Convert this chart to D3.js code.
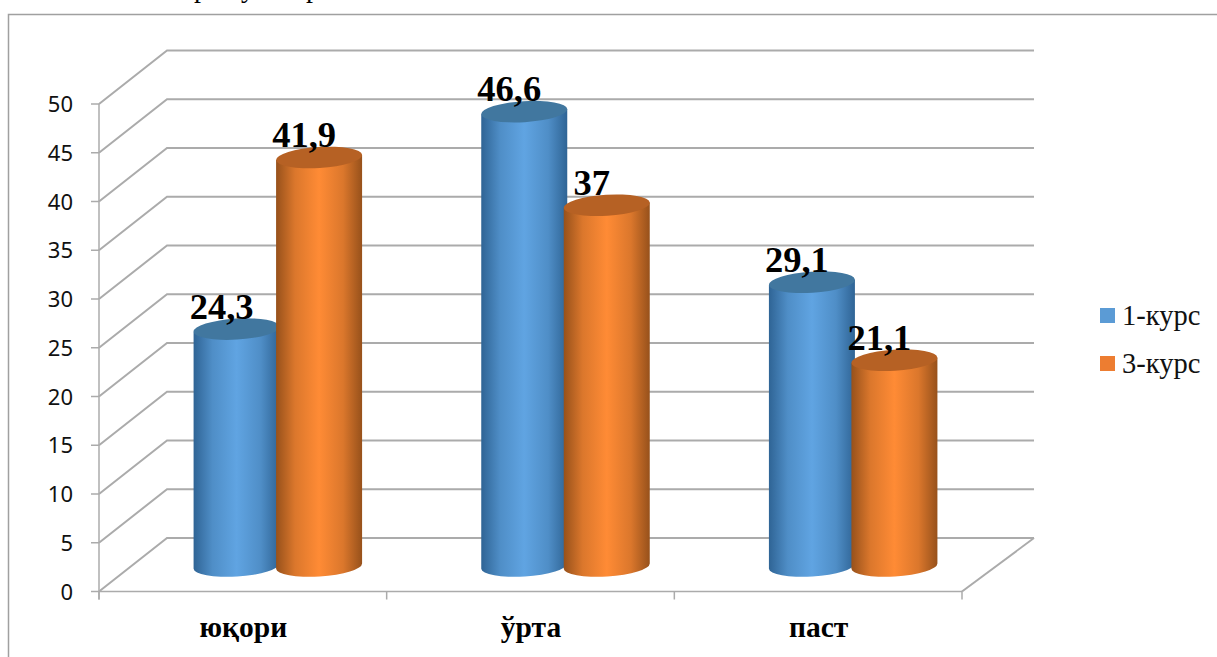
<!DOCTYPE html>
<html><head><meta charset="utf-8">
<script src="https://cdn.jsdelivr.net/npm/d3@7"></script>
<style>html,body{margin:0;padding:0;background:#fff}svg{display:block}</style>
</head><body><svg id="chart" width="1217" height="657"></svg>
<script>
const categories = ["юқори", "ўрта", "паст"];
const seriesNames = ["1-курс", "3-курс"];
const firstYear = [24.3, 46.6, 29.1];
const thirdYear = [41.9, 37, 21.1];
const valueLabels = [["24,3", "46,6", "29,1"], ["41,9", "37", "21,1"]];
const yTicks = [0, 5, 10, 15, 20, 25, 30, 35, 40, 45, 50];

const svg = d3.select("#chart");
const serif = "'Liberation Serif','Times New Roman',serif";
const depth = { dx: 68, dy: -53.5 };
const x = d3.scaleBand().domain(categories).range([99, 962]);
const y = d3.scaleLinear().domain([0, 50]).range([591.5, 104]);
const barSeries = d3.scaleBand().domain(seriesNames).range([-82.5, 82.5]);
const barW = 86, rx = barW / 2, ry = 10.5, tilt = -3.5;

const palette = [
  { edge: "#2f6495", mid: "#60a4e2", top: "#41779f", key: "#5b9bd5" },
  { edge: "#97511b", mid: "#ff8b35", top: "#b66124", key: "#ed7d31" }
];
const defs = svg.append("defs");
palette.forEach((p, i) => {
  const g = defs.append("linearGradient").attr("id", "cyl" + i);
  [[0, p.edge], [0.22, d3.interpolateRgb(p.edge, p.mid)(0.65)], [0.5, p.mid], [0.78, d3.interpolateRgb(p.edge, p.mid)(0.65)], [1, p.edge]]
    .forEach(([o, c]) => g.append("stop").attr("offset", o).attr("stop-color", c));
});

// Surrounding frame
svg.append("path").attr("d", "M8.5,657V14.5H1217").attr("fill", "none").attr("stroke", "#a0a0a0").attr("stroke-width", 1.5);

// Descenders of the body text line that runs off the top of the page
svg.append("text").attr("x", "194 241 306").attr("y", -3).attr("font-family", serif).attr("font-size", 28).attr("fill", "#000").text("рур");

// Back wall gridlines and side-wall diagonals
const grid = svg.append("g").attr("fill", "none").attr("stroke", "#ababab").attr("stroke-width", 2);
grid.selectAll("path").data(yTicks).join("path")
  .attr("d", d => d3.line()([[x.range()[0], y(d)], [x.range()[0] + depth.dx, y(d) + depth.dy], [x.range()[1] + depth.dx + 4, y(d) + depth.dy]]));
grid.append("path").attr("d", d3.line()([[x.range()[1], y(0)], [x.range()[1] + depth.dx + 4, y(0) + depth.dy]]));

// Value axis
const axisY = svg.append("g").attr("stroke", "#ababab").attr("stroke-width", 1.5);
axisY.append("line").attr("x1", 99).attr("x2", 99).attr("y1", y(50)).attr("y2", y(0) + 8);
axisY.selectAll("line.t").data(yTicks).join("line").attr("class", "t")
  .attr("x1", 91).attr("x2", 99).attr("y1", d => y(d)).attr("y2", d => y(d));
svg.append("g").selectAll("text").data(yTicks).join("text")
  .attr("x", 73).attr("y", d => y(d) + 8).attr("text-anchor", "end")
  .attr("font-family", "'Noto Sans',sans-serif").attr("font-size", 22).attr("fill", "#111").text(d => d);

// Category axis
const axisX = svg.append("g").attr("stroke", "#ababab").attr("stroke-width", 1.5);
axisX.append("line").attr("x1", 99).attr("x2", 962).attr("y1", y(0)).attr("y2", y(0));
axisX.selectAll("line.t").data(d3.range(4)).join("line").attr("class", "t")
  .attr("x1", i => 99 + i * x.step()).attr("x2", i => 99 + i * x.step()).attr("y1", y(0)).attr("y2", y(0) + 8);
svg.append("g").selectAll("text").data(categories).join("text")
  .attr("x", d => x(d) + x.bandwidth() / 2 + 0.5).attr("y", 637).attr("text-anchor", "middle")
  .attr("font-family", serif).attr("font-weight", "bold").attr("font-size", 29.5).attr("fill", "#000").text(d => d);

// Cylinders, sitting half-way into the floor depth
const rows = [firstYear, thirdYear];
const baseShift = { dx: 35, dy: -25.5 };
const rot = (cx, cy) => `rotate(${tilt} ${cx} ${cy})`;
rows.forEach((vals, s) => {
  const g = svg.append("g");
  vals.forEach((v, i) => {
    const cx = x(categories[i]) + x.bandwidth() / 2 + baseShift.dx + barSeries(seriesNames[s]) + barSeries.bandwidth() / 2;
    const yb = y(0) + baseShift.dy, yt = y(v) + baseShift.dy;
    const k = Math.tan(tilt * Math.PI / 180) * rx;
    const sideD = `M${cx - rx},${yt - k} L${cx - rx},${yb - k} A${rx},${ry} ${tilt} 0 0 ${cx + rx},${yb + k} L${cx + rx},${yt + k} Z`;
    g.append("path").attr("d", sideD).attr("fill", `url(#cyl${s})`);
    g.append("ellipse").attr("cx", cx).attr("cy", yt).attr("rx", rx / Math.cos(tilt * Math.PI / 180)).attr("ry", ry)
      .attr("transform", rot(cx, yt)).attr("fill", palette[s].top);
  });
});
// Value labels go above every cylinder
rows.forEach((vals, s) => {
  vals.forEach((v, i) => {
    const cx = x(categories[i]) + x.bandwidth() / 2 + baseShift.dx + barSeries(seriesNames[s]) + barSeries.bandwidth() / 2;
    svg.append("text").attr("x", cx - 15).attr("y", y(v) + baseShift.dy - 10.5).attr("text-anchor", "middle")
      .attr("font-family", serif).attr("font-weight", "bold").attr("font-size", 36.5).attr("fill", "#000").text(valueLabels[s][i]);
  });
});

// Legend
const legend = svg.append("g").selectAll("g").data(seriesNames).join("g")
  .attr("transform", (d, i) => `translate(1100,${308 + i * 48})`);
legend.append("rect").attr("width", 15).attr("height", 15).attr("fill", (d, i) => palette[i].key);
legend.append("text").attr("x", 22).attr("y", 17).attr("font-family", serif).attr("font-size", 28.5).attr("fill", "#111").text(d => d);
</script></body></html>
